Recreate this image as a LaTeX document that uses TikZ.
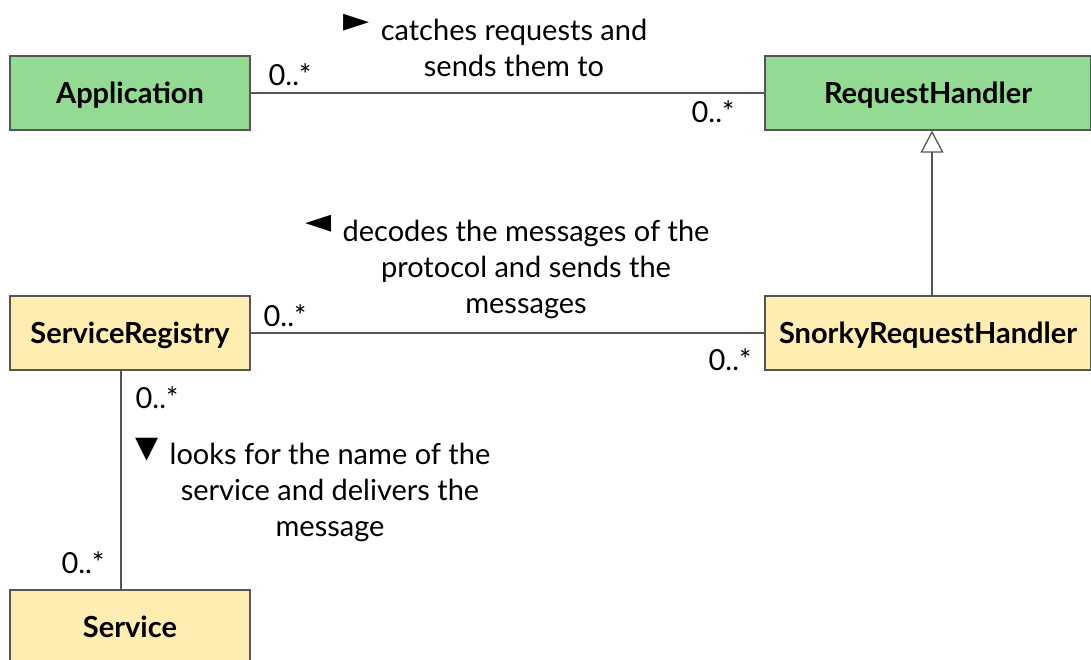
\documentclass[tikz,border=0pt]{standalone}
\usepackage{fontspec}
\setmainfont{Lato}
\newfontfamily\symfont{DejaVu Sans}
\usetikzlibrary{arrows.meta}
\definecolor{umlgreen}{HTML}{93DB93}
\definecolor{umlyellow}{HTML}{FFEDB1}
\definecolor{umlline}{HTML}{555555}
\tikzset{
 classbox/.style={draw=umlline, line width=1.3pt, minimum height=74pt, inner sep=0pt, text height=22pt, text depth=2pt, font=\fontsize{29}{34}\selectfont\bfseries},
 greenclass/.style={classbox, fill=umlgreen},
 yellowclass/.style={classbox, fill=umlyellow},
 assoc/.style={umlline, line width=1.3pt},
 mult/.style={font=\fontsize{29}{34}\selectfont, inner sep=0pt},
 rolelabel/.style={font=\fontsize{29}{36}\selectfont, align=center, inner sep=0pt}
}
\newcommand{\dirmark}[3]{\llap{\raisebox{#2}[0pt][0pt]{\fontsize{#3}{36}\symfont #1}\hspace{11pt}}}

\begin{document}
\begin{tikzpicture}[x=1pt,y=-1pt]
\useasboundingbox (0,0) rectangle (1091,659);
\node[greenclass, minimum width=240pt] (app) at (130,93) {Application};
\node[greenclass, minimum width=326pt] (rh) at (928,93) {RequestHandler};
\node[yellowclass, minimum width=240pt] (sreg) at (130,333) {ServiceRegistry};
\node[yellowclass, minimum width=326pt] (srh) at (928,333) {SnorkyRequestHandler};
\node[yellowclass, minimum width=240pt] (serv) at (130,627) {Service};

\draw[assoc] (app) -- (rh);
\draw[assoc] (sreg) -- (srh);
\draw[assoc] ([xshift=-9pt]sreg.south) -- ([xshift=-9pt]serv.north);
\draw[assoc, -{Triangle[open, length=22pt, width=23pt]}] ([xshift=4pt]srh.north) -- ([xshift=4pt]rh.south);

\foreach \pos/\name in {(290,75)/m1, (713,112)/m2, (285,316)/m3, (730,360)/m4, (157,398)/m5, (83,563)/m6}
 \node[mult] (\name) at \pos {0..*};

\node[rolelabel] (lbl1) at (514,48) {\dirmark{►}{9pt}{34}catches requests and\\sends them to};
\node[rolelabel] (lbl2) at (526,269) {\dirmark{◄}{9pt}{34}decodes the messages of the\\protocol and sends the\\messages};
\node[rolelabel] (lbl3) at (330,492) {\dirmark{▼}{7pt}{30}looks for the name of the\\service and delivers the\\message};
\end{tikzpicture}
\end{document}
